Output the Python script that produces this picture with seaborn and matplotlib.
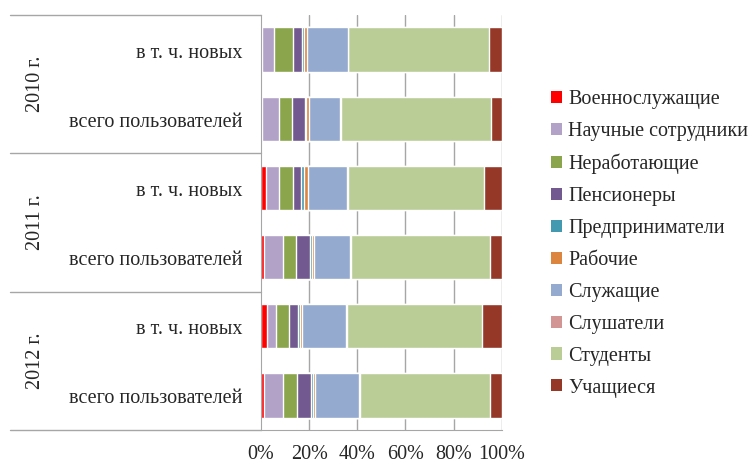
import numpy as np
import pandas as pd
import seaborn as sns
import matplotlib.pyplot as plt
from matplotlib.patches import Patch
import matplotlib.transforms as mtransforms

sns.set_style("white")
plt.rcParams['font.family'] = ['Liberation Serif', 'DejaVu Serif']

# rows from top to bottom
years = ['2010 г.', '2011 г.', '2012 г.']
row_labels = ['в т. ч. новых', 'всего пользователей'] * 3
row_ids = ['2010 new', '2010 all', '2011 new', '2011 all', '2012 new', '2012 all']

groups = ['Военнослужащие', 'Научные сотрудники', 'Неработающие', 'Пенсионеры',
          'Предприниматели', 'Рабочие', 'Служащие', 'Слушатели', 'Студенты', 'Учащиеся']
colors = ['#FF0000', '#B3A2C7', '#8BA54C', '#725A90', '#4399AF',
          '#DC853F', '#95AACF', '#D39594', '#BACD97', '#963828']

# shares in %, one list per group, rows in the order of row_ids
voen = [0.6, 0.6, 2.1, 1.1, 2.6, 1.1]
nauch = [4.8, 6.9, 5.4, 7.9, 3.5, 7.9]
nerab = [7.7, 5.3, 5.7, 5.7, 5.5, 5.8]
pens = [4.1, 5.5, 3.6, 5.7, 3.6, 5.9]
predpr = [0.8, 0.4, 1.1, 0.8, 1.0, 1.1]
rab = [1.1, 1.2, 1.5, 1.1, 1.0, 0.7]
sluzh = [16.9, 12.9, 16.2, 14.8, 18.3, 18.1]
slush = [0.1, 0.3, 0.6, 0.3, 0.2, 0.7]
stud = [58.9, 62.8, 56.8, 58.4, 56.2, 54.1]
uch = [5.1, 4.3, 7.2, 4.7, 8.3, 4.7]

df = pd.DataFrame([voen, nauch, nerab, pens, predpr, rab, sluzh, slush, stud, uch],
                  index=groups, columns=row_ids).T
shares = df.div(df.sum(axis=1), axis=0)
cum = shares.cumsum(axis=1)

FS = 14.5

fig = plt.figure(figsize=(7.5, 4.67), dpi=100)
ax = fig.add_axes([0.348, 0.079, 0.321, 0.889])

# stacked bars: draw cumulative totals from the right end backwards
for g, c in reversed(list(zip(groups, colors))):
    sns.barplot(x=cum[g].values, y=row_ids, order=row_ids, orient='h',
                color=c, width=0.64, saturation=1, ax=ax)

ax.set_xlim(0, 1)
ax.set_ylim(5.5, -0.5)
ax.set_xticks(np.arange(0, 1.01, 0.2))
ax.set_xticklabels([f'{int(round(v * 100))}%' for v in np.arange(0, 1.01, 0.2)], fontsize=FS)
ax.tick_params(axis='x', length=0, pad=11)
ax.set_yticks([])
ax.set_xlabel('')
ax.set_ylabel('')
for t in np.arange(0.2, 1.01, 0.2):
    ax.axvline(t, color='#A6A6A6', lw=1, zorder=0)
for s in ['top', 'right']:
    ax.spines[s].set_visible(False)
ax.spines['left'].set_color('#A6A6A6')
ax.spines['bottom'].set_color('#A6A6A6')

# grouped category axis on the left
trans = mtransforms.blended_transform_factory(ax.transAxes, ax.transData)
for yb in [-0.5, 1.5, 3.5, 5.5]:
    ax.plot([-1.041, 0], [yb, yb], transform=trans, color='#A6A6A6', lw=1, clip_on=False)
for i, lab in enumerate(row_labels):
    ax.text(-0.075, i + 0.05, lab, transform=trans, ha='right', va='center', fontsize=FS)
for k, yr in enumerate(years):
    ax.text(-0.935, 2 * k + 0.5, yr, transform=trans, ha='center', va='center',
            rotation=90, fontsize=FS)

handles = [Patch(facecolor=c, edgecolor='none') for c in colors]
fig.legend(handles, groups, loc='center left', bbox_to_anchor=(0.735, 0.478),
           frameon=False, fontsize=FS, handlelength=0.55, handleheight=0.55,
           handletextpad=0.3, labelspacing=0.64, borderaxespad=0, borderpad=0)

fig.savefig('out.png', dpi=100, facecolor='white')
